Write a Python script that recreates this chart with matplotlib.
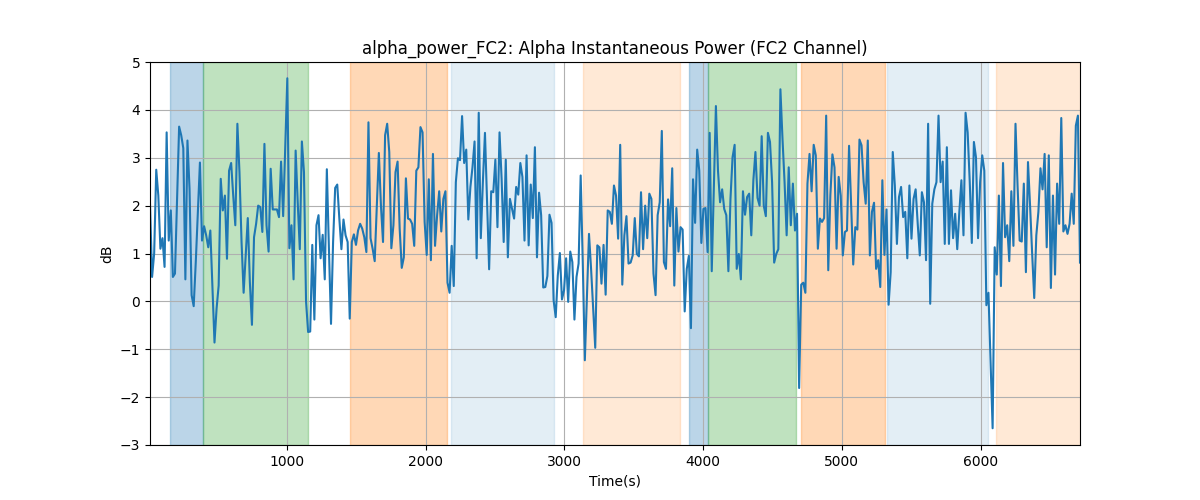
import numpy as np
import matplotlib
matplotlib.use("Agg")
import matplotlib.pyplot as plt

# Time axis: first sample and sampling step (seconds)
t_start = 12
t_step = 15

# Alpha instantaneous power (dB)
power_db = [
    # ~0-850 s
    2.04, 0.51, 1.00, 2.75, 2.21, 1.10, 1.32, 0.72, 3.53, 1.27, 1.90, 0.51, 0.58, 2.10,
    3.65, 3.47, 3.20, 0.46, 3.36, 2.35, 0.13, -0.10, 0.82, 1.85, 2.90, 1.27, 1.57, 1.38,
    1.13, 1.48, 0.33, -0.86, -0.15, 0.33, 2.56, 1.90, 2.21, 0.89, 2.73, 2.89, 2.21, 1.59,
    3.71, 2.70, 1.24, 0.18, 0.96, 1.74, 0.40, -0.49, 1.34, 1.62, 2.00, 1.97, 1.45, 3.29,
    # ~850-1680 s
    1.59, 1.04, 2.77, 1.92, 1.92, 1.92, 1.76, 2.92, 1.78, 3.20, 4.66, 1.11, 1.59, 0.46,
    3.15, 2.07, 1.09, 3.34, 2.70, 0.00, -0.64, -0.63, 1.18, -0.38, 1.59, 1.80, 0.90, 1.39,
    0.46, 2.76, 1.10, -0.47, 1.24, 2.37, 2.44, 1.73, 1.09, 1.71, 1.38, 1.24, -0.36, 1.24,
    1.40, 1.18, 1.48, 1.62, 1.52, 1.34, 1.03, 3.74, 1.32, 1.10, 0.84, 2.00, 3.10, 2.00,
    # ~1690-2510 s
    1.24, 3.47, 3.71, 3.12, 1.11, 1.59, 2.70, 2.92, 1.52, 0.70, 0.92, 2.57, 1.73, 1.71,
    1.62, 1.16, 2.73, 2.80, 3.64, 3.53, 1.66, 0.97, 2.55, 0.86, 3.08, 1.16, 1.80, 2.30,
    1.46, 2.14, 2.30, 0.39, 0.18, 1.16, 0.32, 2.49, 2.99, 2.95, 3.87, 2.89, 3.17, 1.71,
    2.39, 2.80, 3.34, 0.90, 3.94, 1.32, 2.50, 3.52, 2.10, 0.67, 2.30, 2.28, 2.96, 1.55,
    # ~2530-3350 s
    3.53, 2.56, 1.24, 2.96, 0.92, 2.14, 1.93, 1.73, 2.39, 2.23, 2.89, 2.60, 1.27, 3.05,
    1.17, 2.44, 1.74, 3.22, 0.92, 2.27, 1.80, 0.29, 0.30, 0.53, 1.81, 1.64, 0.02, -0.33,
    0.54, 1.01, 0.04, 0.23, 0.90, -0.01, 1.04, 0.82, -0.38, 0.51, 0.79, 2.63, 0.82, -1.23,
    0.06, 1.41, 0.68, -0.15, -0.97, 1.17, 1.13, 0.37, 1.18, 0.14, 1.90, 1.87, 1.62, 2.42,
    # ~3370-4180 s
    2.21, 1.31, 3.27, 0.35, 1.38, 1.78, 0.79, 0.81, 0.96, 1.74, 0.99, 0.94, 2.28, 1.09,
    2.00, 1.32, 2.25, 2.14, 0.58, 0.13, 1.80, 2.07, 3.56, 0.82, 0.68, 2.13, 1.57, 2.78,
    0.33, 1.95, 1.04, 1.55, 1.50, -0.21, 0.68, 0.95, -0.56, 2.55, 1.64, 3.17, 2.73, 1.22,
    1.93, 1.95, 1.03, 3.52, 0.63, 2.40, 4.08, 2.73, 2.07, 2.34, 1.93, 1.80, 0.63,
    # ~4200-5020 s
    2.14, 3.01, 3.27, 0.68, 0.99, 0.46, 2.30, 1.81, 2.18, 2.25, 1.38, 2.53, 3.12, 2.16,
    2.00, 3.45, 2.00, 1.78, 3.52, 3.33, 2.49, 0.81, 0.99, 1.09, 4.43, 3.40, 2.49, 1.38,
    2.80, 1.59, 2.46, 1.48, 1.83, -1.81, 0.35, 0.39, 0.18, 2.46, 3.08, 2.30, 3.27, 3.05,
    1.10, 1.73, 1.66, 1.74, 3.88, 0.65, 2.21, 3.07, 2.80, 1.10, 2.60, 2.21, 0.96, 1.45,
    # ~5040-5860 s
    1.48, 3.25, 2.04, 0.77, 1.55, 1.50, 3.38, 3.26, 2.49, 2.04, 3.36, 0.96, 1.87, 2.06,
    0.68, 0.86, 0.30, 2.53, 0.97, 1.92, -0.07, 0.61, 3.12, 2.42, 1.20, 2.18, 2.39, 1.76,
    1.87, 0.90, 2.42, 1.31, 2.14, 2.34, 1.62, 0.96, 2.28, 2.07, 0.86, 3.71, -0.05, 2.04,
    2.34, 2.49, 3.88, 2.49, 2.92, 1.20, 3.22, 1.20, 2.32, 1.32, 1.83, 1.09, 1.87, 2.53,
    # ~5880-6720 s
    1.38, 3.94, 3.53, 2.50, 1.22, 3.33, 3.01, 1.32, 2.49, 3.05, 2.73, -0.08, 0.18, -1.20,
    -2.65, 1.13, 0.56, 2.21, 0.32, 2.89, 1.34, 1.59, 0.84, 2.30, 1.16, 3.71, 2.40, 1.27,
    1.25, 2.46, 0.61, 2.91, 2.00, 1.00, 0.07, 1.38, 1.87, 2.78, 2.34, 3.08, 1.13, 3.05,
    0.28, 2.21, 0.56, 2.46, 1.62, 3.83, 1.46, 1.59, 1.41, 1.62, 2.25, 1.62, 3.67, 3.88,
    0.81,
]

# Shaded stage intervals (start, end) in seconds and their colour/alpha
span_starts = [156, 394, 1455, 2181, 3136, 3895, 4035, 4709, 5327, 6108]
span_ends   = [394, 1149, 2150, 2924, 3836, 4035, 4672, 5310, 6053, 6760]
span_colors = ["C0", "C2", "C1", "C0", "C1", "C0", "C2", "C1", "C0", "C1"]
span_alphas = [0.3, 0.3, 0.3, 0.12, 0.17, 0.3, 0.3, 0.3, 0.12, 0.17]

values = np.array(power_db)
t = t_start + t_step * np.arange(len(values))

fig, ax = plt.subplots(figsize=(12, 5), dpi=100)
fig.subplots_adjust(left=0.125, right=0.9, bottom=0.11, top=0.876)

for s, e, c, a in zip(span_starts, span_ends, span_colors, span_alphas):
    ax.axvspan(s, e, color=c, alpha=a)

ax.plot(t, values, color="C0", linewidth=1.5)

ax.set_xlim(t[0], t[-1])
ax.set_ylim(-3, 5)
ax.grid(True)
ax.set_title("alpha_power_FC2: Alpha Instantaneous Power (FC2 Channel)")
ax.set_xlabel("Time(s)")
ax.set_ylabel("dB")

fig.savefig("out.png", dpi=100)
